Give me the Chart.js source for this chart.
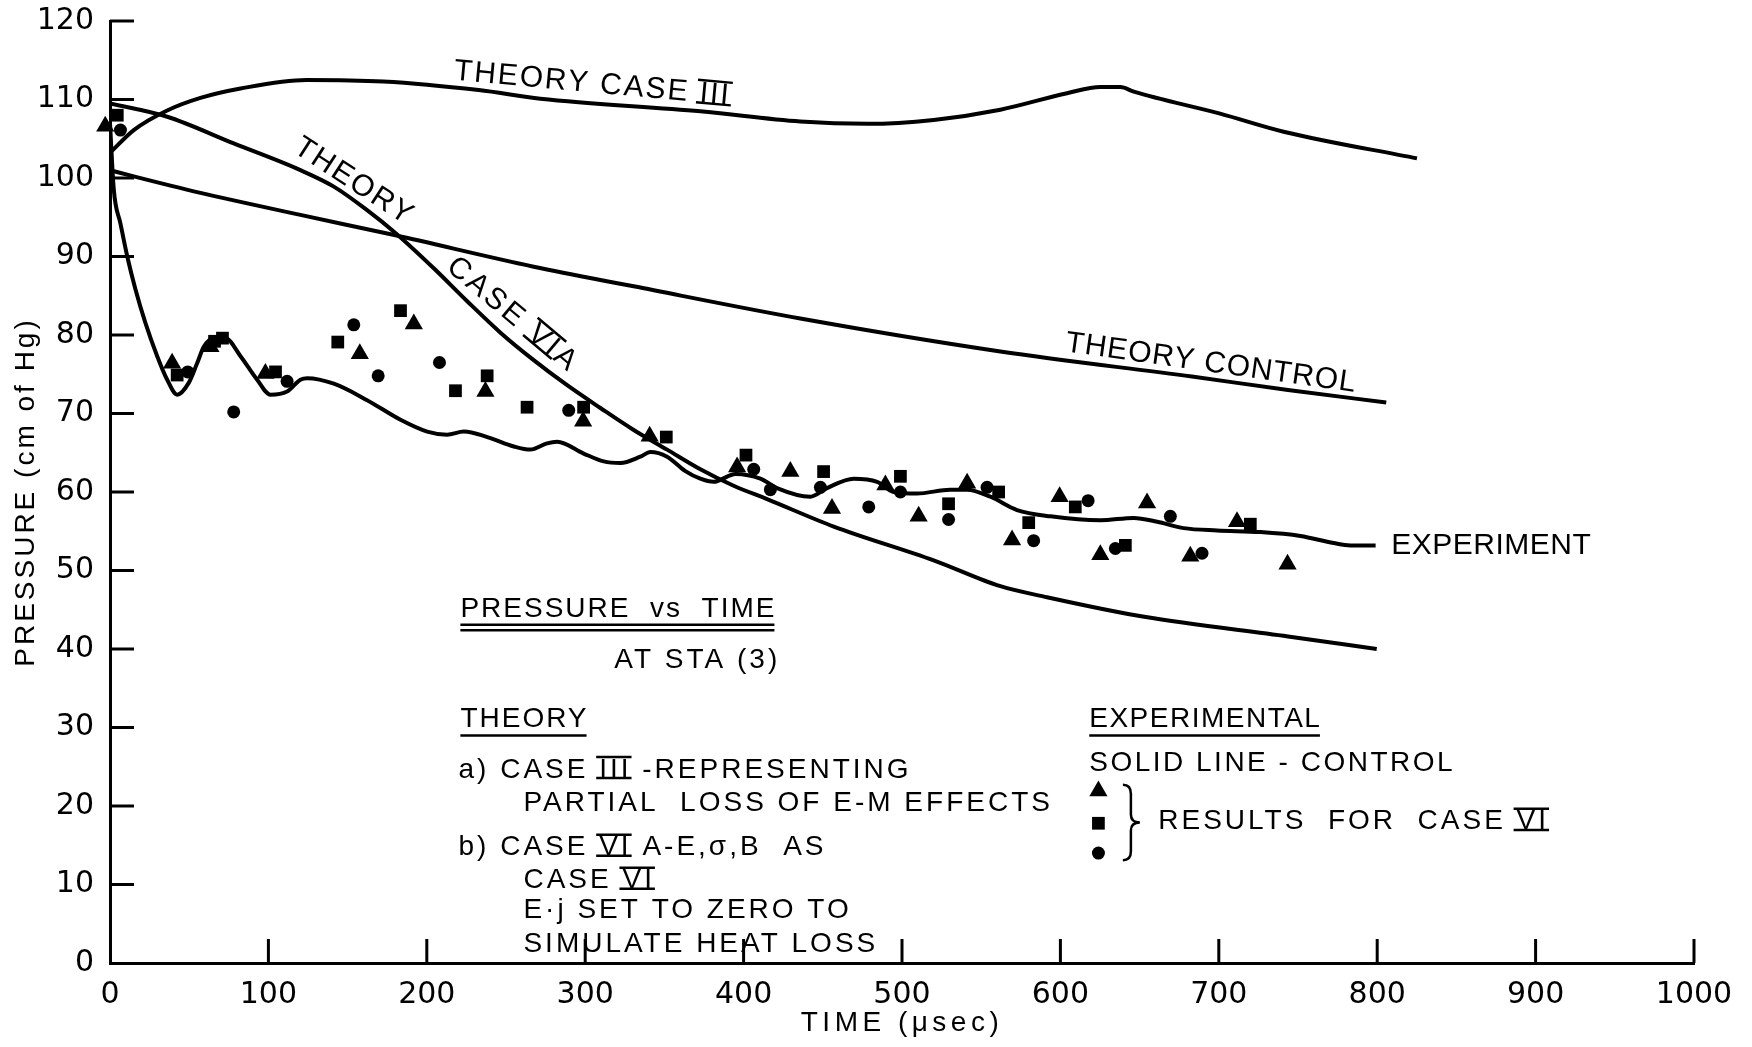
<!DOCTYPE html>
<html>
<head>
<meta charset="utf-8">
<title>Pressure vs Time at STA (3)</title>
<script src="https://cdn.jsdelivr.net/npm/chart.js@4.4.1/dist/chart.umd.min.js"></script>
<style>
  html, body { margin: 0; padding: 0; background: #fff; }
  #wrap { width: 1752px; height: 1047px; }
</style>
</head>
<body>
<div id="wrap"><canvas id="pressureChart" width="1752" height="1047"></canvas></div>
<script>
// --- Data (time in usec, pressure in cm of Hg) ---
const case3Time = [0, 15, 36.1, 57.1, 82.4, 124, 172.5, 232.8, 271.7, 372.7, 435.8, 478, 520, 562.1, 604.2, 625.3, 637.9, 646.3, 700.8, 740.9, 825.1];
const case3Pressure = [103.2, 106.1, 108.6, 110.2, 111.4, 112.5, 112.3, 111.2, 110.1, 108.5, 107.2, 106.9, 107.4, 108.7, 110.8, 111.6, 111.6, 111.0, 108.2, 105.9, 102.5];

const controlTime = [0, 15, 57.1, 120.2, 180.2, 267.5, 330.6, 435.8, 562.1, 683, 743.7, 805.7];
const controlPressure = [101.0, 100.2, 98.1, 95.3, 92.7, 88.7, 86.2, 82.1, 77.9, 74.7, 73.0, 71.4];

const caseVIATime = [0, 36.1, 78.1, 120.2, 141.3, 162.3, 180.2, 204.4, 225.5, 246.5, 267.5, 288.6, 309.6, 330.6, 351.7, 372.7, 393.7, 414.8, 456.9, 520, 562.1, 591.5, 652.9, 743.7, 799.7];
const caseVIAPressure = [109.5, 107.8, 104.4, 101.0, 98.9, 95.9, 93.0, 88.5, 84.3, 80.3, 76.8, 73.6, 70.7, 67.9, 65.4, 62.9, 60.8, 59.1, 55.6, 51.3, 48.0, 46.6, 44.1, 41.6, 40.0];

const expTime = [0, 2.4, 6.6, 10.9, 16.1, 22.4, 29.8, 36.1, 42.4, 49.7, 55, 59.2, 65.5, 72.9, 82.4, 92.9, 101.3, 111.8, 120.2, 124.5, 141.3, 162.3, 183.4, 200.2, 212.8, 223.4, 238.2, 255, 265.4, 275.9, 282.3, 299, 311.7, 322.2, 334.8, 341.2, 351.7, 363, 372.7, 381.1, 395, 410.6, 421.1, 442.1, 452.7, 469.5, 484.3, 494.7, 509.5, 530.5, 541.1, 555.8, 572.6, 593.8, 625.3, 646.3, 661.1, 677.8, 698.9, 726.2, 751.5, 772.5, 783, 799];
const expPressure = [107, 98.5, 94.2, 90.0, 85.8, 81.5, 77.3, 74.3, 72.4, 73.9, 76.4, 78.5, 79.6, 79.6, 77.3, 74.3, 72.4, 72.8, 74.3, 74.5, 73.8, 71.7, 69.2, 67.7, 67.3, 67.7, 67.0, 65.8, 65.4, 66.2, 66.4, 64.9, 63.9, 63.7, 64.5, 65.1, 64.5, 62.7, 61.7, 61.3, 62.3, 61.7, 60.5, 59.4, 60.5, 61.7, 61.3, 60.0, 59.8, 60.3, 60.3, 59.4, 57.7, 56.9, 56.4, 56.7, 56.2, 55.4, 55.1, 54.9, 54.4, 53.5, 53.2, 53.2];

// Case VI results: three symbols
const triTime = [-3, 39.2, 63.4, 98.1, 157.7, 191.8, 237, 298.7, 340.7, 395.9, 429.5, 455.8, 489.5, 510.5, 541.1, 569.5, 599.5, 625.2, 654.7, 682, 711.5, 743.4];
const triPressure = [106.6, 76.4, 78.5, 75.1, 77.6, 81.4, 72.8, 69.0, 67.1, 63.2, 62.6, 57.9, 60.9, 56.9, 61.1, 53.9, 59.4, 52.0, 58.6, 51.8, 56.2, 50.8];

const sqTime = [4.6, 42.4, 66, 71, 104.5, 143.8, 183.4, 218.1, 238.1, 263.3, 299, 351.2, 401.5, 450.5, 499, 529.4, 561, 580, 609.4, 641, 719.9];
const sqPressure = [108.0, 74.9, 79.2, 79.6, 75.3, 79.1, 83.1, 72.9, 74.8, 70.8, 70.8, 67.0, 64.7, 62.6, 62.0, 58.5, 60.0, 56.1, 58.1, 53.2, 55.9];

const circTime = [6.6, 49.1, 78.1, 111.8, 153.9, 169.3, 208, 289.6, 406.4, 416.9, 448.5, 479, 499, 529.4, 553.7, 583.1, 617.5, 634.7, 669.4, 689.4];
const circPressure = [106.1, 75.3, 70.2, 74.1, 81.3, 74.8, 76.5, 70.4, 62.9, 60.3, 60.6, 58.1, 60.0, 56.5, 60.6, 53.8, 58.9, 52.8, 56.9, 52.2];

// Axis ranges and tick steps
const timeRange = [0, 1000, 100];
const pressureRange = [0, 120, 10];

// --- Styling constants ---
const INK = '#000';
const LETTER_FONT = '"Liberation Sans", Arial, sans-serif';
const TICK_FONT = '"DejaVu Sans", sans-serif';
const TICK_LEN = 24;

// Text written inside the plot, anchored in data units (x = usec, y = cm Hg)
const plotLabels = [
    { parts: ['THEORY CASE ', { bar: 'III' }], x: 304.6, y: 112.3, angle: 5.2, size: 30, spacing: 2, align: 'center' },
    { parts: ['THEORY'], x: 154.9, y: 99.8, angle: 33, size: 30, spacing: 2, align: 'center' },
    { parts: ['CASE ', { bar: 'VI' }, 'A'], x: 255.3, y: 82.8, angle: 40, size: 30, spacing: 3, align: 'center' },
    { parts: ['THEORY CONTROL'], x: 695.3, y: 76.7, angle: 8, size: 30, spacing: 1, align: 'center' },
    { parts: ['EXPERIMENT'], x: 808.9, y: 53.5, angle: 0, size: 30, spacing: 0.5, align: 'left' },
    { parts: ['PRESSURE  vs  TIME'], x: 221.2, y: 45.4, size: 28, spacing: 2, align: 'left', underline: 2 },
    { parts: ['AT STA (3)'], x: 318.4, y: 38.9, size: 28, spacing: 3, align: 'left' },
    { parts: ['THEORY'], x: 221.2, y: 31.3, size: 28, spacing: 2, align: 'left', underline: 1 },
    { parts: ['a) CASE ', { bar: 'III' }, ' -REPRESENTING'], x: 220, y: 24.9, size: 28, spacing: 3, align: 'left' },
    { parts: ['PARTIAL  LOSS OF E-M EFFECTS'], x: 261, y: 20.6, size: 28, spacing: 3, align: 'left' },
    { parts: ['b) CASE ', { bar: 'VI' }, ' A-E,σ,B  AS'], x: 220, y: 15.0, size: 28, spacing: 3, align: 'left' },
    { parts: ['CASE ', { bar: 'VI' }], x: 261, y: 10.8, size: 28, spacing: 3, align: 'left' },
    { parts: ['E·j SET TO ZERO TO'], x: 261, y: 7.0, size: 28, spacing: 3, align: 'left' },
    { parts: ['SIMULATE HEAT LOSS'], x: 261, y: 2.7, size: 28, spacing: 3, align: 'left' },
    { parts: ['EXPERIMENTAL'], x: 618.2, y: 31.3, size: 28, spacing: 1.5, align: 'left', underline: 1 },
    { parts: ['SOLID LINE - CONTROL'], x: 618.2, y: 25.8, size: 28, spacing: 2.5, align: 'left' },
    { parts: ['RESULTS  FOR  CASE ', { bar: 'VI' }], x: 661.8, y: 18.3, size: 28, spacing: 3, align: 'left' }
];

// Symbol key next to the brace
const keyX = 624;
const keyRows = [{ style: 'triangle', y: 21.9 }, { style: 'rect', y: 17.8 }, { style: 'circle', y: 14.0 }];
const braceSpan = { x: 644.5, top: 22.7, bottom: 13.1 };

// --- Helpers ---
function toPoints(xs, ys) {
    return xs.map((v, i) => ({ x: v, y: ys[i] }));
}

const MARKER_RADIUS = { triangle: 10.5, rect: 9, circle: 6.5 };

function drawMarker(ctx, style, px, py) {
    const r = MARKER_RADIUS[style];
    ctx.beginPath();
    if (style === 'triangle') {
        // same geometry as Chart.js' triangle point style
        for (let k = 0; k < 3; k++) {
            const a = k * 2 * Math.PI / 3;
            const vx = px + Math.sin(a) * r, vy = py - Math.cos(a) * r;
            if (k === 0) ctx.moveTo(vx, vy); else ctx.lineTo(vx, vy);
        }
        ctx.closePath();
    } else if (style === 'rect') {
        const s = r * Math.SQRT1_2;
        ctx.rect(px - s, py - s, 2 * s, 2 * s);
    } else {
        ctx.arc(px, py, r, 0, 2 * Math.PI);
    }
    ctx.fill();
}

// Draws a line of text; {bar: 'VI'} pieces get the engineering over/under bars
function drawRich(ctx, parts, x, baseline, size, spacing, align) {
    const widths = parts.map(p => ctx.measureText(typeof p === 'string' ? p : p.bar).width);
    const total = widths.reduce((a, b) => a + b, 0);
    let cx = align === 'center' ? x - total / 2 : x;
    const startX = cx;
    const cap = size * 0.72;
    parts.forEach((p, i) => {
        const txt = typeof p === 'string' ? p : p.bar;
        ctx.fillText(txt, cx, baseline);
        if (typeof p !== 'string') {
            const w = widths[i] - spacing;
            ctx.lineWidth = 2.5;
            ctx.beginPath();
            ctx.moveTo(cx - 3, baseline - cap - 0.5);
            ctx.lineTo(cx + w + 3, baseline - cap - 0.5);
            ctx.moveTo(cx - 3, baseline + 0.5);
            ctx.lineTo(cx + w + 3, baseline + 0.5);
            ctx.stroke();
        }
        cx += widths[i];
    });
    return { left: startX, width: total - spacing };
}

function strokeLine(ctx, x1, y1, x2, y2) {
    ctx.beginPath();
    ctx.moveTo(x1, y1);
    ctx.lineTo(x2, y2);
    ctx.stroke();
}

// --- Plugin: inward ticks, axis titles, annotations and key ---
const figureText = {
    id: 'figureText',
    afterDraw(chart) {
        const { ctx, chartArea: area, scales: { x, y } } = chart;
        ctx.save();
        ctx.strokeStyle = INK;
        ctx.fillStyle = INK;
        ctx.lineCap = 'butt';

        // tick marks pointing into the plot
        ctx.lineWidth = 3;
        y.ticks.forEach(t => {
            if (t.value === 0) return;
            const py = y.getPixelForValue(t.value);
            strokeLine(ctx, area.left, py, area.left + TICK_LEN, py);
        });
        x.ticks.forEach(t => {
            if (t.value === 0) return;
            const px = x.getPixelForValue(t.value);
            strokeLine(ctx, px, area.bottom, px, area.bottom - TICK_LEN);
        });

        // axis titles
        ctx.textBaseline = 'middle';
        ctx.textAlign = 'center';
        ctx.font = '28px ' + LETTER_FONT;
        ctx.letterSpacing = '4.5px';
        ctx.fillText('TIME (μsec)', x.getPixelForValue(500), area.bottom + 60);
        ctx.save();
        ctx.translate(26, y.getPixelForValue(60));
        ctx.rotate(-Math.PI / 2);
        ctx.letterSpacing = '3px';
        ctx.fillText('PRESSURE (cm of Hg)', 0, 0);
        ctx.restore();

        // annotations
        ctx.textBaseline = 'alphabetic';
        ctx.textAlign = 'left';
        plotLabels.forEach(lab => {
            ctx.font = lab.size + 'px ' + LETTER_FONT;
            ctx.letterSpacing = lab.spacing + 'px';
            const cap = lab.size * 0.72;
            const px = x.getPixelForValue(lab.x);
            const py = y.getPixelForValue(lab.y);
            ctx.save();
            ctx.translate(px, py);
            ctx.rotate((lab.angle || 0) * Math.PI / 180);
            const box = drawRich(ctx, lab.parts, 0, cap / 2, lab.size, lab.spacing, lab.align);
            if (lab.underline) {
                ctx.lineWidth = 2.5;
                const u1 = cap / 2 + 8;
                strokeLine(ctx, box.left, u1, box.left + box.width, u1);
                if (lab.underline === 2) strokeLine(ctx, box.left, u1 + 5.5, box.left + box.width, u1 + 5.5);
            }
            ctx.restore();
        });

        // symbol key and brace
        keyRows.forEach(row => drawMarker(ctx, row.style, x.getPixelForValue(keyX), y.getPixelForValue(row.y)));
        const bx = x.getPixelForValue(braceSpan.x);
        const bt = y.getPixelForValue(braceSpan.top);
        const bb = y.getPixelForValue(braceSpan.bottom);
        const bm = (bt + bb) / 2;
        ctx.lineWidth = 2.5;
        ctx.beginPath();
        ctx.moveTo(bx - 8, bt);
        ctx.quadraticCurveTo(bx, bt, bx, bt + 9);
        ctx.lineTo(bx, bm - 8);
        ctx.quadraticCurveTo(bx, bm, bx + 9, bm);
        ctx.quadraticCurveTo(bx, bm, bx, bm + 8);
        ctx.lineTo(bx, bb - 9);
        ctx.quadraticCurveTo(bx, bb, bx - 8, bb);
        ctx.stroke();

        ctx.restore();
    }
};

// --- Chart ---
function curve(label, xs, ys) {
    return {
        label: label,
        data: toPoints(xs, ys),
        showLine: true,
        borderColor: INK,
        borderWidth: 4,
        pointRadius: 0,
        cubicInterpolationMode: 'monotone',
        fill: false
    };
}

function markers(label, xs, ys, style) {
    return {
        label: label,
        data: toPoints(xs, ys),
        showLine: false,
        pointStyle: style,
        pointRadius: MARKER_RADIUS[style],
        backgroundColor: INK,
        borderColor: INK,
        borderWidth: 0,
        clip: false
    };
}

const ctx = document.getElementById('pressureChart').getContext('2d');
const pressureChart = new Chart(ctx, {
    type: 'scatter',
    data: {
        datasets: [
            curve('Theory Case III', case3Time, case3Pressure),
            curve('Theory Control', controlTime, controlPressure),
            curve('Theory Case VIA', caseVIATime, caseVIAPressure),
            curve('Experiment (control)', expTime, expPressure),
            markers('Case VI (triangle)', triTime, triPressure, 'triangle'),
            markers('Case VI (square)', sqTime, sqPressure, 'rect'),
            markers('Case VI (circle)', circTime, circPressure, 'circle')
        ]
    },
    options: {
        responsive: false,
        devicePixelRatio: 1,
        animation: false,
        layout: { padding: { left: 0, right: 58, top: 21, bottom: 0 } },
        plugins: { legend: { display: false }, tooltip: { enabled: false } },
        scales: {
            x: {
                type: 'linear',
                min: timeRange[0], max: timeRange[1],
                ticks: { stepSize: timeRange[2], color: INK, autoSkip: false, maxRotation: 0, padding: 6,
                         font: { family: TICK_FONT, size: 30 }, callback: v => String(v) },
                grid: { display: false },
                border: { display: true, color: INK, width: 3 },
                afterFit: s => { s.height = 84; s.paddingLeft = 0; s.paddingRight = 0; }
            },
            y: {
                min: pressureRange[0], max: pressureRange[1],
                ticks: { stepSize: pressureRange[2], color: INK, autoSkip: false, padding: 8,
                         font: { family: TICK_FONT, size: 30 }, callback: v => String(v) },
                grid: { display: false },
                border: { display: true, color: INK, width: 3 },
                afterFit: s => { s.width = 110; s.paddingTop = 0; s.paddingBottom = 0; }
            }
        }
    },
    plugins: [figureText]
});
</script>
</body>
</html>
